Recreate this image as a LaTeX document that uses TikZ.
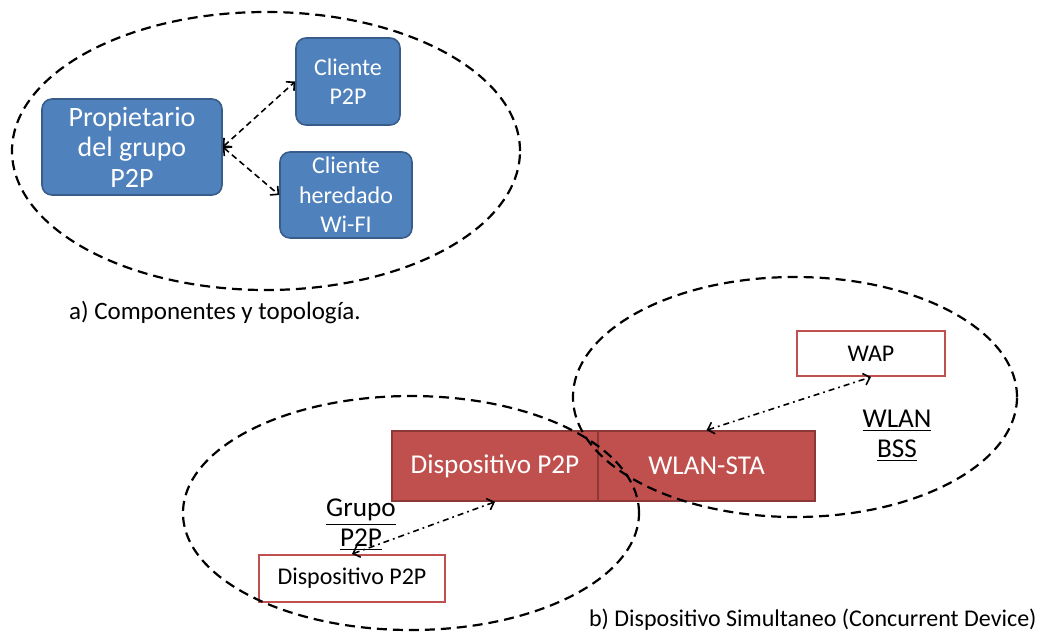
\documentclass[tikz,border=0pt]{standalone}
\usepackage{fontspec}
\setmainfont{Carlito}
\usetikzlibrary{arrows.meta}
\definecolor{boxblue}{HTML}{4F81BD}
\definecolor{boxblueline}{HTML}{385D8A}
\definecolor{boxred}{HTML}{C0504D}
\definecolor{boxredline}{HTML}{8C3836}

\begin{document}
\begin{tikzpicture}[x=0.5pt,y=-0.5pt]
          \tikzset{
            bluebox/.style={rectangle,rounded corners=5pt,draw=boxblueline,fill=boxblue,line width=0.8pt,
              text=white,align=center,inner sep=0pt,font=\fontsize{12}{14.7}\selectfont},
            redbox/.style={rectangle,draw=boxredline,fill=boxred,line width=0.8pt,text=white,
              inner sep=0pt,font=\fontsize{13.6}{16}\selectfont},
            whitebox/.style={rectangle,draw=boxred,fill=white,line width=1pt,inner sep=0pt,
              font=\fontsize{12}{14}\selectfont},
            zone/.style={dashed,dash pattern=on 5pt off 3pt,line width=1.1pt},
            edge/.style={<->,> = {Straight Barb[length=3pt,width=6pt]},dash pattern=on 3pt off 2pt,line width=0.8pt},
            link/.style={<->,> = {Straight Barb[length=3pt,width=6pt]},dash pattern=on 3pt off 2pt on 0.9pt off 2pt,line width=0.8pt},
            tag/.style={align=center,inner sep=0pt,font=\fontsize{13.6}{15}\selectfont}
          }
          \useasboundingbox (0,0) rectangle (1039,638);
          % a) nodes
          \node[bluebox,minimum width=90pt,minimum height=48pt,font=\fontsize{14}{15.3}\selectfont] (owner) at (132,147) {Propietario\\del grupo\\P2P};
          \node[bluebox,minimum width=52pt,minimum height=43.5pt] (client) at (348,81.5) {Cliente\\P2P};
          \node[bluebox,minimum width=66pt,minimum height=43pt] (legacy) at (346,195) {Cliente\\heredado\\Wi-FI};
          \node[anchor=west,font=\fontsize{12.5}{14}\selectfont] (capa) at (62,312) {a) Componentes y topología.};

          % b) nodes
          \node[redbox,minimum width=103pt,minimum height=35pt] (p2pdev) at (495,466) {Dispositivo P2P};
          \node[redbox,minimum width=108.5pt,minimum height=35pt] (wlansta) at (706.5,466) {WLAN-STA};
          \node[whitebox,minimum width=74pt,minimum height=22.5pt] (wap) at (871,353.5) {WAP};
          \node[whitebox,minimum width=93pt,minimum height=23.5pt] (peer) at (352,578.5) {Dispositivo P2P};
          \node[tag] (group) at (361,525) {\underline{Grupo}\\\underline{P2P}};
          \node[tag] (bss) at (897,436) {\underline{WLAN}\\\underline{BSS}};
          \node[anchor=west,font=\fontsize{12}{14}\selectfont] (capb) at (582,620) {b) Dispositivo Simultaneo (Concurrent Device)};

          % zones
          \draw[zone] (266,151) ellipse [x radius=127pt, y radius=69.5pt];
          \draw[zone] (795,397) ellipse [x radius=111pt, y radius=60pt];
          \draw[zone] (411,513) ellipse [x radius=114pt, y radius=58.5pt];

          % edges
          \draw[edge] (owner.east) -- (client.west);
          \draw[edge] (owner.east) -- (legacy.west);
          \draw[link] (peer.north) -- (p2pdev.south);
          \draw[link] (wlansta.north) -- (wap.south);
        \end{tikzpicture}
\end{document}
